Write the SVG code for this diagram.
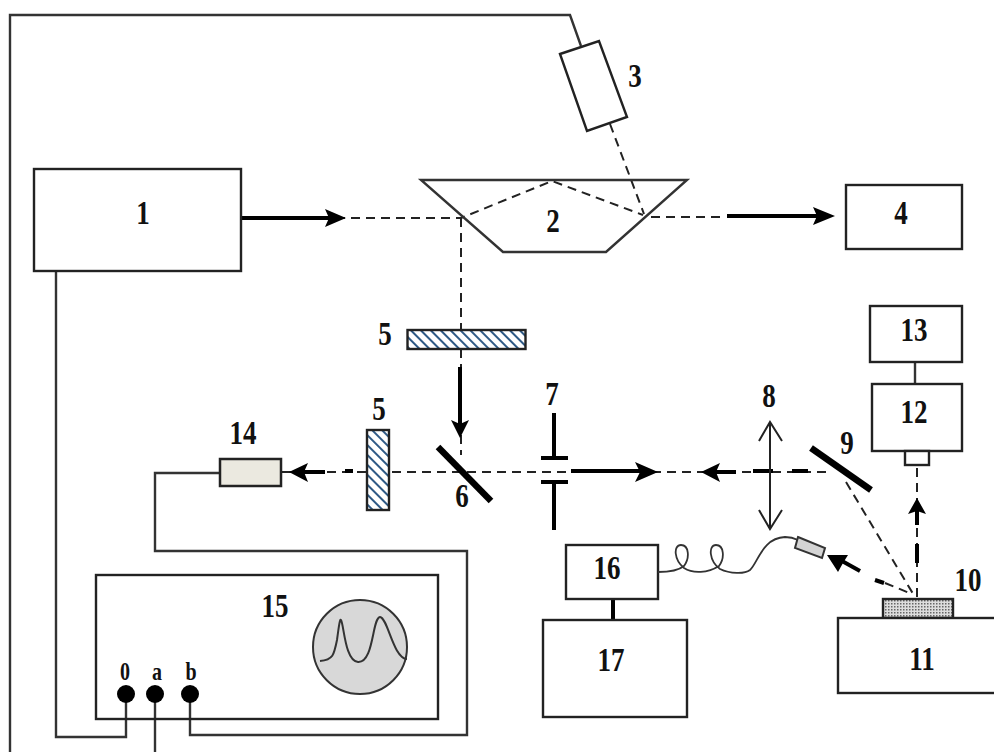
<svg xmlns="http://www.w3.org/2000/svg" width="994" height="752" viewBox="0 0 994 752">
<style>
text{font-family:"Liberation Serif",serif;font-weight:bold;font-size:27px;fill:#111;text-anchor:middle}
.s{font-size:20px}
.b{fill:#fff;stroke:#222;stroke-width:2.400}
.w{fill:none;stroke:#333;stroke-width:2.400}
.d{fill:none;stroke:#222;stroke-width:2;stroke-dasharray:9 6}
.t{fill:none;stroke:#000;stroke-width:4}
.m{fill:none;stroke:#000;stroke-width:6.500}
.a{fill:#000;stroke:none}
.th{fill:none;stroke:#000;stroke-width:4}
</style>
<defs>
<pattern id="h" width="7" height="7" patternUnits="userSpaceOnUse" patternTransform="rotate(-45)"><rect width="7" height="7" fill="#fff"/><rect width="2" height="7" fill="#2f5a86"/></pattern>
<pattern id="g" width="3" height="3" patternUnits="userSpaceOnUse"><rect width="3" height="3" fill="#ddd"/><rect width="1.500" height="1.500" fill="#666"/></pattern>
</defs>
<g id="connectors">
<path class="w" d="M155,752V694"/>
<path class="w" d="M581,46L570,15H10V752"/>
<path class="w" d="M56,271V737H126V694"/>
<path class="w" d="M190,694V735H467V551H155V473H220"/>
<path class="w" d="M915,362V384"/>
<path class="d" d="M610,124L644,214"/>
<path class="d" d="M246,218H461L552,181L643,215"/>
<path class="d" d="M651,217H726"/>
<path class="d" d="M461,218V330"/>
<path class="d" d="M461,349V368"/>
<path class="d" d="M461,435V455"/>
<path class="d" d="M392,472H568"/>
<path class="d" d="M282,472H366"/>
<path class="d" d="M652,472H832"/>
<path class="d" d="M846,482L915,597"/>
<path class="d" d="M917,597V466"/>
<path class="d" d="M885,583L912,594"/>
<path class="t" d="M242,218H332"/><path class="a" d="M346,218L325,209L329,218L325,227Z"/>
<path class="t" d="M727,216H820"/><path class="a" d="M835,216L813,207L817,216L813,225Z"/>
<path class="t" d="M460,367V425"/><path class="a" d="M460,438L451,420L460,424L469,420Z"/>
<path class="t" d="M571,471H645"/><path class="a" d="M658,472L635,462L640,472L635,482Z"/>
<path class="t" d="M736,472H712"/><path class="a" d="M701,472L720,463L716,472L720,482Z"/>
<path class="t" d="M325,472H302"/><path class="a" d="M289,472L308,463L304,472L308,482Z"/>
<path class="t" d="M753,471H773M792,471H808M345,471H353"/>
<path class="th" d="M917,563V544M917,525V508"/><path class="a" d="M917,498L908,514L917,511L926,514Z"/>
<path class="t" d="M860,571L842,561"/><path class="a" d="M827,555L848,555L843,563L838,572Z"/>
<path class="t" d="M875,580L884,583"/>
<path class="th" d="M613,599V620"/>
<path class="th" d="M554,413V458M541,458H568M541,482H568M554,482V530"/>
</g>
<g id="n1"><rect class="b" x="34" y="169" width="207" height="102"/><text transform="translate(143 224) scale(1 1.250)">1</text></g>
<g id="n2"><path class="w" d="M421,180H687L606,252H503Z"/><text transform="translate(553 232) scale(1 1.250)">2</text></g>
<g id="n3"><path class="b" d="M560,54L599,41L627,117L587,131Z"/><text transform="translate(635 87) scale(1 1.250)">3</text></g>
<g id="n4"><rect class="b" x="846" y="185" width="116" height="64"/><text transform="translate(901 224) scale(1 1.250)">4</text></g>
<g id="n5a"><rect x="407.500" y="330" width="118" height="19" fill="url(#h)" stroke="#222" stroke-width="2.400"/><text transform="translate(385 345) scale(1 1.250)">5</text></g>
<g id="n5b"><rect x="367" y="430" width="22" height="80" fill="url(#h)" stroke="#222" stroke-width="2.400"/><text transform="translate(379 420) scale(1 1.250)">5</text></g>
<g id="n6"><path class="m" d="M438,447L491,501"/><text transform="translate(462 507) scale(1 1.250)">6</text></g>
<g id="n7"><text transform="translate(552 405) scale(1 1.250)">7</text></g>
<g id="n8"><path fill="none" stroke="#222" stroke-width="2" d="M770,422V528M759,441L770,422L782,441M759,510L770,529L782,510"/><text transform="translate(769 407) scale(1 1.250)">8</text></g>
<g id="n9"><path class="m" d="M811,448L871,490"/><text transform="translate(847 454) scale(1 1.250)">9</text></g>
<g id="n10"><rect x="883" y="599" width="70" height="19" fill="url(#g)" stroke="#222" stroke-width="2.400"/><text transform="translate(968 591) scale(1 1.250)">10</text></g>
<g id="n11"><rect class="b" x="838" y="618" width="170" height="75"/><text transform="translate(922 670) scale(1 1.250)">11</text></g>
<g id="n12"><rect class="b" x="872" y="384" width="90" height="67"/><rect class="b" x="905" y="451" width="24" height="14"/><text transform="translate(914 423) scale(1 1.250)">12</text></g>
<g id="n13"><rect class="b" x="870" y="306" width="92" height="56"/><text transform="translate(914 341) scale(1 1.250)">13</text></g>
<g id="n14"><rect x="220" y="459" width="61" height="27" fill="#ebe9e0" stroke="#222" stroke-width="2.500"/><text transform="translate(243 444) scale(1 1.250)">14</text></g>
<g id="n15"><rect x="96" y="575" width="342" height="144" fill="none" stroke="#222" stroke-width="2.400"/><circle cx="360" cy="647" r="47" fill="#d8d8d8" stroke="#333" stroke-width="2"/>
<path fill="none" stroke="#333" stroke-width="2" d="M320,661C333,660 334,655 337,640C339,625 340,618 341,620C344,625 345,661 358,662C374,663 372,618 380,617C388,618 393,658 407,659"/>
<text transform="translate(275 617) scale(1 1.250)">15</text>
<circle cx="126" cy="694" r="9" fill="#000"/><circle cx="155" cy="694" r="9" fill="#000"/><circle cx="190" cy="694" r="9" fill="#000"/>
<text class="s" transform="translate(125 680) scale(1 1.250)">0</text><text class="s" transform="translate(157 680) scale(1 1.250)">a</text><text class="s" transform="translate(191 680) scale(1 1.250)">b</text></g>
<g id="n16"><rect class="b" x="566" y="545" width="92" height="54"/><text transform="translate(607 579) scale(1 1.250)">16</text></g>
<g id="n17"><rect class="b" x="543" y="620" width="144" height="97"/><text transform="translate(611 671) scale(1 1.250)">17</text></g>
<g id="fiber"><path fill="none" stroke="#333" stroke-width="1.800" d="M658,572C668,572 678,571 684,566C690,558 689,545 681,545C673,545 674,560 684,568C693,574 708,573 719,566C725,558 724,545 716,545C708,545 709,561 720,569C730,574 745,574 750,570C758,563 762,538 785,537C790,537 794,538 798,540"/>
<path d="M798,537L825,548L822,558L795,548Z" fill="#d4d4d4" stroke="#333" stroke-width="2"/></g>
</svg>
